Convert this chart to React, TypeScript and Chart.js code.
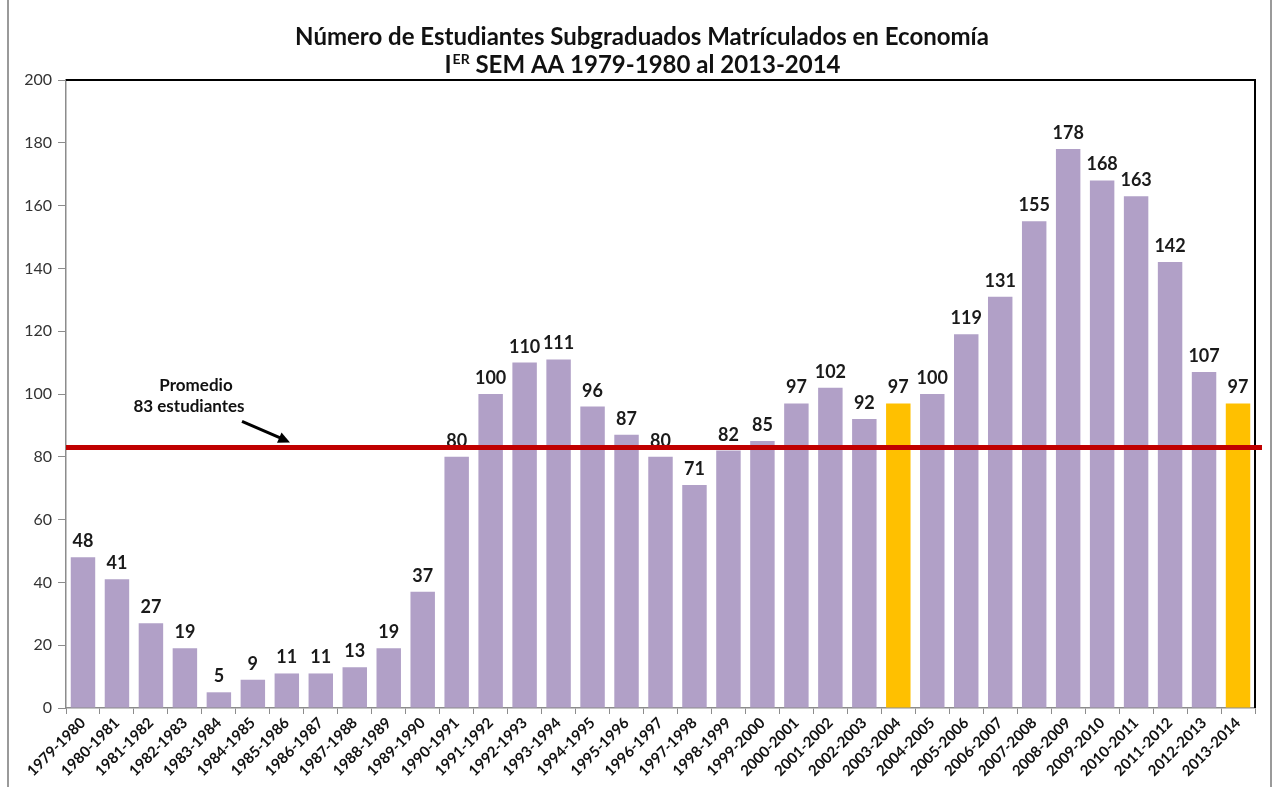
import React, { useEffect, useRef } from "react";
import { Chart, registerables } from "chart.js";

Chart.register(...registerables);

const categories = [
  "1979-1980", "1980-1981", "1981-1982", "1982-1983", "1983-1984", "1984-1985",
  "1985-1986", "1986-1987", "1987-1988", "1988-1989", "1989-1990", "1990-1991",
  "1991-1992", "1992-1993", "1993-1994", "1994-1995", "1995-1996", "1996-1997",
  "1997-1998", "1998-1999", "1999-2000", "2000-2001", "2001-2002", "2002-2003",
  "2003-2004", "2004-2005", "2005-2006", "2006-2007", "2007-2008", "2008-2009",
  "2009-2010", "2010-2011", "2011-2012", "2012-2013", "2013-2014",
];

const students = [
  48, 41, 27, 19, 5, 9, 11, 11, 13, 19, 37, 80, 100, 110, 111, 96, 87, 80, 71, 82,
  85, 97, 102, 92, 97, 100, 119, 131, 155, 178, 168, 163, 142, 107, 97,
];

const highlighted = ["2003-2004", "2013-2014"];

const averageValue = 83;
const averageLabel = ["Promedio", "83 estudiantes"];
const titleLine1 = "Número de Estudiantes Subgraduados Matrículados en Economía";
const titleLine2Parts = ["I", "ER", " SEM AA 1979-1980 al 2013-2014"];

const PURPLE = "#B1A0C7";
const GOLD = "#FFC000";
const FONT = "Lato, 'Open Sans', sans-serif";

export default function App() {
  const ref = useRef<HTMLCanvasElement | null>(null);

  useEffect(() => {
    if (!ref.current) return;

    const decor = {
      id: "decor",
      afterDatasetsDraw(chart: any) {
        const ctx = chart.ctx;
        const ca = chart.chartArea;
        const y = chart.scales.y;
        const meta = chart.getDatasetMeta(0);
        ctx.save();
        // plot frame top and right
        ctx.strokeStyle = "#000";
        ctx.lineWidth = 2;
        ctx.beginPath();
        ctx.moveTo(ca.left, ca.top);
        ctx.lineTo(ca.right, ca.top);
        ctx.lineTo(ca.right, ca.bottom);
        ctx.stroke();
        // data labels
        ctx.fillStyle = "#1a1a1a";
        ctx.font = `bold 18px ${FONT}`;
        ctx.textAlign = "center";
        ctx.textBaseline = "alphabetic";
        meta.data.forEach((bar: any, i: number) => {
          ctx.fillText(String(students[i]), bar.x, bar.y - 10);
        });
        // average line
        const ay = y.getPixelForValue(averageValue);
        ctx.strokeStyle = "#C00000";
        ctx.lineWidth = 5;
        ctx.beginPath();
        ctx.moveTo(ca.left, ay);
        ctx.lineTo(ca.right + 7, ay);
        ctx.stroke();
        // annotation text
        ctx.fillStyle = "#111";
        ctx.font = `bold 17px ${FONT}`;
        ctx.fillText(averageLabel[0], ca.left + 130, ay - 56);
        ctx.fillText(averageLabel[1], ca.left + 123, ay - 35);
        // arrow
        const x1 = ca.left + 176, y1 = ay - 26;
        const x2 = ca.left + 224, y2 = ay - 5;
        ctx.strokeStyle = "#000";
        ctx.lineWidth = 3;
        ctx.beginPath();
        ctx.moveTo(x1, y1);
        ctx.lineTo(x2 - 4, y2 - 2);
        ctx.stroke();
        const ang = Math.atan2(y2 - y1, x2 - x1);
        ctx.fillStyle = "#000";
        ctx.beginPath();
        ctx.moveTo(x2, y2);
        ctx.lineTo(x2 - 13 * Math.cos(ang - 0.45), y2 - 13 * Math.sin(ang - 0.45));
        ctx.lineTo(x2 - 13 * Math.cos(ang + 0.45), y2 - 13 * Math.sin(ang + 0.45));
        ctx.closePath();
        ctx.fill();
        // title
        ctx.fillStyle = "#111";
        ctx.textAlign = "center";
        ctx.font = `bold 24px ${FONT}`;
        const cx = 642;
        ctx.fillText(titleLine1, cx, 45);
        const wA = ctx.measureText(titleLine2Parts[0]).width;
        ctx.font = `bold 14px ${FONT}`;
        const wB = ctx.measureText(titleLine2Parts[1]).width;
        ctx.font = `bold 24px ${FONT}`;
        const wC = ctx.measureText(titleLine2Parts[2]).width;
        let sx = cx - (wA + wB + wC) / 2;
        ctx.textAlign = "left";
        ctx.fillText(titleLine2Parts[0], sx, 73);
        sx += wA + 1;
        ctx.font = `bold 14px ${FONT}`;
        ctx.fillText(titleLine2Parts[1], sx, 64);
        sx += wB;
        ctx.font = `bold 24px ${FONT}`;
        ctx.fillText(titleLine2Parts[2], sx, 73);
        // outer frame lines
        ctx.strokeStyle = "#9a9a9a";
        ctx.lineWidth = 2;
        ctx.beginPath();
        ctx.moveTo(8, 0);
        ctx.lineTo(8, 787);
        ctx.moveTo(1271, 0);
        ctx.lineTo(1271, 787);
        ctx.stroke();
        ctx.restore();
      },
    };

    const chart = new Chart(ref.current, {
      type: "bar",
      data: {
        labels: categories,
        datasets: [
          {
            data: students,
            backgroundColor: categories.map((c) => (highlighted.includes(c) ? GOLD : PURPLE)),
            barPercentage: 0.72,
            categoryPercentage: 1,
          },
        ],
      },
      options: {
        responsive: false,
        animation: false,
        layout: { padding: { left: 0, right: 22, top: 80, bottom: 0 } },
        plugins: {
          legend: { display: false },
          tooltip: { enabled: false },
          title: { display: false },
        },
        scales: {
          x: {
            grid: { display: true, drawOnChartArea: false, offset: true, color: "#8c8c8c", tickLength: 6 },
            border: { color: "#8c8c8c", width: 1.5 },
            ticks: {
              maxRotation: 45,
              minRotation: 45,
              autoSkip: false,
              color: "#111",
              font: { family: FONT, size: 15, weight: "bold" },
              padding: 0,
            },
            afterFit: (s: any) => {
              s.height = 79;
            },
          },
          y: {
            min: 0,
            max: 200,
            ticks: {
              stepSize: 20,
              color: "#333",
              font: { family: FONT, size: 16 },
              padding: 6,
            },
            grid: { display: true, drawOnChartArea: false, color: "#8c8c8c", tickLength: 8 },
            border: { color: "#8c8c8c", width: 1.5 },
            afterFit: (s: any) => {
              s.width = 66;
            },
          },
        },
      },
      plugins: [decor],
    });
    return () => chart.destroy();
  }, []);

  return (
    <div style={{ position: "fixed", left: 0, top: 0, width: 1277, height: 787, background: "#fff" }}>
      <canvas ref={ref} width={1277} height={787} style={{ display: "block" }} />
    </div>
  );
}
